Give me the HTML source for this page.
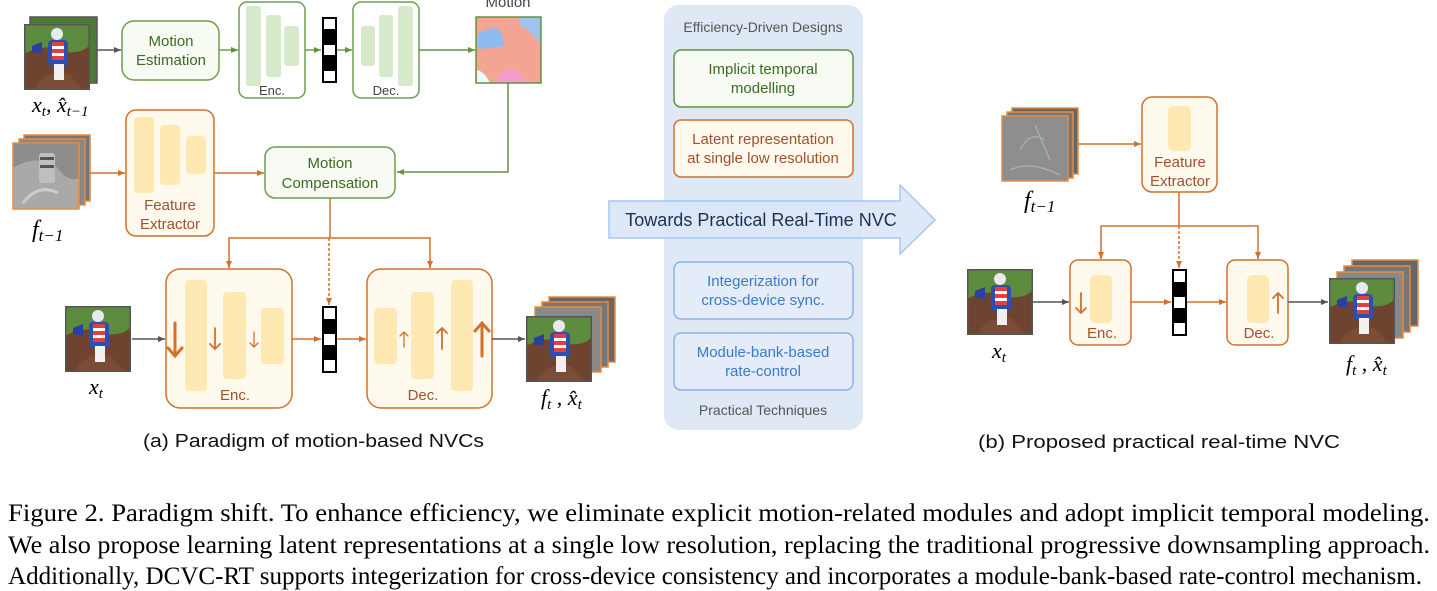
<!DOCTYPE html>
<html><head><meta charset="utf-8"><style>
html,body{margin:0;padding:0;background:#fff;width:1437px;height:591px;overflow:hidden}
svg{display:block}
.s{font-family:"Liberation Sans",sans-serif}
.m{font-family:"Liberation Serif",serif;font-style:italic}
</style></head><body>
<svg width="1437" height="591" viewBox="0 0 1437 591" xmlns="http://www.w3.org/2000/svg">
<defs>
<marker id="ag" markerWidth="8" markerHeight="8" refX="7" refY="4" orient="auto" markerUnits="userSpaceOnUse"><path d="M0,1 L7,4 L0,7 Z" fill="#555"/></marker>
<marker id="agr" markerWidth="8" markerHeight="8" refX="7" refY="4" orient="auto" markerUnits="userSpaceOnUse"><path d="M0,1 L7,4 L0,7 Z" fill="#5f9440"/></marker>
<marker id="ao" markerWidth="8" markerHeight="8" refX="7" refY="4" orient="auto" markerUnits="userSpaceOnUse"><path d="M0,1 L7,4 L0,7 Z" fill="#d3702a"/></marker>
<g id="horse">
<rect x="0" y="0" width="66" height="66" fill="#5e8c3e"/>
<path d="M0,30 Q20,18 40,28 Q60,30 66,20 L66,66 L0,66 Z" fill="#6e4330"/>
<path d="M10,66 Q20,45 45,50 L60,66 Z" fill="#7b4d36"/>
<rect x="24" y="16" width="20" height="26" rx="4" fill="#2b4fb3"/>
<rect x="28" y="18" width="12" height="4" fill="#e04040"/><rect x="28" y="25" width="12" height="4" fill="#e04040"/><rect x="28" y="32" width="12" height="4" fill="#e04040"/>
<rect x="28" y="22" width="12" height="3" fill="#fff"/><rect x="28" y="29" width="12" height="3" fill="#fff"/>
<circle cx="33" cy="10" r="6" fill="#e8e8f0"/>
<rect x="30" y="40" width="10" height="16" fill="#f0f0f0"/>
<path d="M8,22 L18,18 L18,30 L8,28 Z" fill="#2a3f9e"/>
<rect x="0.75" y="0.75" width="64.5" height="64.5" fill="none" stroke="#555" stroke-width="1.5"/>
</g>
<g id="gray">
<rect x="0" y="0" width="66" height="66" fill="#8d8d8d"/>
<path d="M0,25 Q25,10 45,25 Q55,40 66,35 L66,66 L0,66 Z" fill="#a9a9a9"/>
<rect x="26" y="10" width="16" height="30" rx="3" fill="#bfbfbf"/>
<rect x="27" y="14" width="14" height="3" fill="#555"/><rect x="27" y="22" width="14" height="3" fill="#555"/>
<path d="M10,60 Q25,40 45,50" stroke="#ccc" stroke-width="3" fill="none"/>
</g>
</defs>

<!-- ===== Panel (a) ===== -->
<rect x="30" y="17" width="67" height="66" fill="#4e7a37" stroke="#555" stroke-width="1.5"/>
<use href="#horse" x="24" y="24"/>
<text x="32" y="112" class="m" font-size="22">x<tspan font-size="15" dy="4">t</tspan><tspan dy="-4">, x̂</tspan><tspan font-size="15" dy="4">t−1</tspan></text>
<line x1="97" y1="50" x2="121" y2="50" stroke="#555" stroke-width="1.5" marker-end="url(#ag)"/>
<rect x="122" y="21" width="97" height="59" rx="12" fill="#f7fbf3" stroke="#6e9d4e" stroke-width="1.5"/>
<text x="171" y="46" class="s" font-size="15" fill="#3d6b1f" text-anchor="middle">Motion</text>
<text x="171" y="65" class="s" font-size="15" fill="#3d6b1f" text-anchor="middle">Estimation</text>
<line x1="219" y1="50" x2="238" y2="50" stroke="#6e9d4e" stroke-width="1.5" marker-end="url(#agr)"/>
<rect x="239" y="2" width="66" height="96" rx="8" fill="#fff" stroke="#6e9d4e" stroke-width="1.5"/>
<rect x="246" y="6" width="15" height="80" rx="3" fill="#d6e9ca"/>
<rect x="266" y="15" width="15" height="62" rx="3" fill="#d6e9ca"/>
<rect x="284" y="26" width="15" height="40" rx="3" fill="#d6e9ca"/>
<text x="272" y="95" class="s" font-size="13" fill="#444" text-anchor="middle">Enc.</text>
<line x1="305" y1="50" x2="321" y2="50" stroke="#6e9d4e" stroke-width="1.5" marker-end="url(#agr)"/>
<rect x="322" y="17" width="15" height="66" fill="#000"/>
<rect x="324" y="19" width="11" height="10" fill="#fff"/><rect x="324" y="45" width="11" height="10" fill="#fff"/><rect x="324" y="71" width="11" height="10" fill="#fff"/>
<line x1="337" y1="50" x2="352" y2="50" stroke="#6e9d4e" stroke-width="1.5" marker-end="url(#agr)"/>
<rect x="353" y="2" width="66" height="96" rx="8" fill="#fff" stroke="#6e9d4e" stroke-width="1.5"/>
<rect x="361" y="26" width="14" height="40" rx="3" fill="#d6e9ca"/>
<rect x="379" y="15" width="14" height="62" rx="3" fill="#d6e9ca"/>
<rect x="398" y="6" width="15" height="80" rx="3" fill="#d6e9ca"/>
<text x="386" y="95" class="s" font-size="13" fill="#444" text-anchor="middle">Dec.</text>
<line x1="419" y1="50" x2="475" y2="50" stroke="#5f9440" stroke-width="1.5" marker-end="url(#agr)"/>
<rect x="476" y="17" width="65" height="66" fill="#f3a493"/>
<path d="M477,35 Q490,25 500,30 L505,45 Q490,50 477,48 Z" fill="#8fbcef"/>
<path d="M520,18 L541,18 L541,45 Q530,30 520,25 Z" fill="#9fc3f0"/>
<path d="M495,83 Q505,65 515,70 L530,83 Z" fill="#f59ad0"/>
<path d="M477,70 Q485,72 490,83 L477,83 Z" fill="#eafaff"/>
<rect x="476" y="17" width="65" height="66" fill="none" stroke="#5f9440" stroke-width="1.5"/>
<text x="508" y="7" class="s" font-size="15" fill="#444" text-anchor="middle">Motion</text>
<polyline points="508,83 508,172 397,172" fill="none" stroke="#5f9440" stroke-width="1.5" marker-end="url(#agr)"/>
<rect x="24" y="135" width="66" height="66" fill="#777" stroke="#e98a3f" stroke-width="1.5"/>
<rect x="19" y="139" width="66" height="66" fill="#888" stroke="#e98a3f" stroke-width="1.5"/>
<use href="#gray" x="13" y="143"/>
<rect x="13" y="143" width="66" height="66" fill="none" stroke="#e98a3f" stroke-width="1.5"/>
<text x="32" y="237" class="m" font-size="24">f<tspan font-size="17" dy="4">t−1</tspan></text>
<line x1="90" y1="173" x2="125" y2="173" stroke="#d3702a" stroke-width="1.5" marker-end="url(#ao)"/>
<rect x="126" y="110" width="88" height="126" rx="10" fill="#fff9ee" stroke="#d3702a" stroke-width="1.5"/>
<rect x="134" y="117" width="20" height="76" rx="4" fill="#ffe9b3"/>
<rect x="160" y="125" width="20" height="60" rx="4" fill="#ffe9b3"/>
<rect x="186" y="136" width="20" height="38" rx="4" fill="#ffe9b3"/>
<text x="170" y="210" class="s" font-size="15" fill="#a0522d" text-anchor="middle">Feature</text>
<text x="170" y="229" class="s" font-size="15" fill="#a0522d" text-anchor="middle">Extractor</text>
<line x1="214" y1="173" x2="264" y2="173" stroke="#d3702a" stroke-width="1.5" marker-end="url(#ao)"/>
<rect x="265" y="147" width="130" height="51" rx="10" fill="#f7fbf3" stroke="#6e9d4e" stroke-width="1.5"/>
<text x="330" y="168" class="s" font-size="15" fill="#3d6b1f" text-anchor="middle">Motion</text>
<text x="330" y="188" class="s" font-size="15" fill="#3d6b1f" text-anchor="middle">Compensation</text>
<line x1="330" y1="198" x2="330" y2="238" stroke="#d3702a" stroke-width="1.5"/>
<polyline points="229,268 229,238 430,238 430,268" fill="none" stroke="#d3702a" stroke-width="1.5"/>
<line x1="229" y1="260" x2="229" y2="268" stroke="#d3702a" stroke-width="1.5" marker-end="url(#ao)"/>
<line x1="430" y1="260" x2="430" y2="268" stroke="#d3702a" stroke-width="1.5" marker-end="url(#ao)"/>
<line x1="329" y1="238" x2="329" y2="305" stroke="#d3702a" stroke-width="1.5" stroke-dasharray="3,2" marker-end="url(#ao)"/>
<use href="#horse" x="65" y="306"/>
<text x="89" y="394" class="m" font-size="22">x<tspan font-size="15" dy="4">t</tspan></text>
<line x1="132" y1="339" x2="165" y2="339" stroke="#555" stroke-width="1.5" marker-end="url(#ag)"/>
<rect x="166" y="269" width="126" height="139" rx="14" fill="#fff9ee" stroke="#d3702a" stroke-width="1.5"/>
<rect x="185" y="280" width="22" height="111" rx="4" fill="#ffe9b3"/>
<rect x="223" y="292" width="23" height="87" rx="4" fill="#ffe9b3"/>
<rect x="261" y="308" width="23" height="56" rx="4" fill="#ffe9b3"/>
<g stroke="#d3702a" fill="none" stroke-linecap="round">
<path d="M175,323 V356 M168,348 L175,356 L182,348" stroke-width="3"/>
<path d="M215,328 V349 M210,344 L215,349 L220,344" stroke-width="1.8"/>
<path d="M254,332 V347 M250,343 L254,347 L258,343" stroke-width="1.3"/>
</g>
<text x="235" y="400" class="s" font-size="15" fill="#a0522d" text-anchor="middle">Enc.</text>
<line x1="292" y1="339" x2="321" y2="339" stroke="#d3702a" stroke-width="1.5" marker-end="url(#ao)"/>
<rect x="322" y="306" width="15" height="67" fill="#000"/>
<rect x="324" y="308" width="11" height="11" fill="#fff"/><rect x="324" y="334" width="11" height="11" fill="#fff"/><rect x="324" y="360" width="11" height="11" fill="#fff"/>
<line x1="337" y1="339" x2="366" y2="339" stroke="#d3702a" stroke-width="1.5" marker-end="url(#ao)"/>
<rect x="367" y="269" width="125" height="139" rx="14" fill="#fff9ee" stroke="#d3702a" stroke-width="1.5"/>
<rect x="374" y="308" width="23" height="56" rx="4" fill="#ffe9b3"/>
<rect x="411" y="292" width="23" height="87" rx="4" fill="#ffe9b3"/>
<rect x="451" y="280" width="22" height="111" rx="4" fill="#ffe9b3"/>
<g stroke="#d3702a" fill="none" stroke-linecap="round">
<path d="M404,347 V332 M400,336 L404,332 L408,336" stroke-width="1.3"/>
<path d="M442,349 V328 M437,333 L442,328 L447,333" stroke-width="1.8"/>
<path d="M482,356 V323 M475,331 L482,323 L489,331" stroke-width="3"/>
</g>
<text x="423" y="400" class="s" font-size="15" fill="#a0522d" text-anchor="middle">Dec.</text>
<line x1="492" y1="339" x2="525" y2="339" stroke="#555" stroke-width="1.5" marker-end="url(#ag)"/>
<rect x="549" y="297" width="66" height="65" fill="#666" stroke="#e98a3f" stroke-width="1.5"/>
<rect x="542" y="302" width="66" height="65" fill="#777" stroke="#e98a3f" stroke-width="1.5"/>
<rect x="535" y="307" width="66" height="65" fill="#888" stroke="#e98a3f" stroke-width="1.5"/>
<use href="#horse" x="526" y="316"/>
<text x="541" y="405" class="m" font-size="22">f<tspan font-size="15" dy="4">t</tspan><tspan dy="-4"> , x̂</tspan><tspan font-size="15" dy="4">t</tspan></text>
<text x="143" y="447" class="s" font-size="18.5" fill="#111" textLength="341" lengthAdjust="spacingAndGlyphs">(a) Paradigm of motion-based NVCs</text>

<!-- ===== Middle panel ===== -->
<rect x="664" y="5" width="199" height="425" rx="15" fill="#dfe9f5"/>
<text x="763" y="32" class="s" font-size="14" fill="#555" text-anchor="middle">Efficiency-Driven Designs</text>
<rect x="674" y="50" width="179" height="57" rx="7" fill="#f7fbf3" stroke="#5f9440" stroke-width="1.5"/>
<text x="763" y="74" class="s" font-size="15" fill="#3d6b1f" text-anchor="middle">Implicit temporal</text>
<text x="763" y="93" class="s" font-size="15" fill="#3d6b1f" text-anchor="middle">modelling</text>
<rect x="674" y="120" width="179" height="57" rx="7" fill="#fff9ee" stroke="#d3702a" stroke-width="1.5"/>
<text x="763" y="144" class="s" font-size="15" fill="#a0522d" text-anchor="middle">Latent representation</text>
<text x="763" y="163" class="s" font-size="15" fill="#a0522d" text-anchor="middle">at single low resolution</text>
<path d="M609,201 H900 V185 L935,220 L900,254 V238 H609 Z" fill="#dae6f7" fill-opacity="0.92" stroke="#a6c6f2" stroke-width="1.5"/>
<text x="761" y="226" class="s" font-size="18" fill="#1e2f4f" text-anchor="middle">Towards Practical Real-Time NVC</text>
<rect x="674" y="262" width="179" height="57" rx="7" fill="#e3ecf8" stroke="#8ab4e6" stroke-width="1.5"/>
<text x="763" y="286" class="s" font-size="15" fill="#3a7acb" text-anchor="middle">Integerization for</text>
<text x="763" y="305" class="s" font-size="15" fill="#3a7acb" text-anchor="middle">cross-device sync.</text>
<rect x="674" y="333" width="179" height="57" rx="7" fill="#e3ecf8" stroke="#8ab4e6" stroke-width="1.5"/>
<text x="763" y="357" class="s" font-size="15" fill="#3a7acb" text-anchor="middle">Module-bank-based</text>
<text x="763" y="376" class="s" font-size="15" fill="#3a7acb" text-anchor="middle">rate-control</text>
<text x="763" y="415" class="s" font-size="14" fill="#555" text-anchor="middle">Practical Techniques</text>

<!-- ===== Panel (b) ===== -->
<rect x="1012" y="108" width="66" height="66" fill="#666" stroke="#e98a3f" stroke-width="1.5"/>
<rect x="1007" y="112" width="66" height="66" fill="#777" stroke="#e98a3f" stroke-width="1.5"/>
<rect x="1002" y="116" width="66" height="65" fill="#8e8e8e" stroke="#e98a3f" stroke-width="1.5"/>
<path d="M1020,150 Q1030,130 1045,140 M1035,125 L1050,160 M1010,170 Q1030,160 1060,175" stroke="#b0b0b0" stroke-width="1.2" fill="none"/>
<text x="1024" y="208" class="m" font-size="24">f<tspan font-size="17" dy="4">t−1</tspan></text>
<line x1="1078" y1="144" x2="1141" y2="144" stroke="#d3702a" stroke-width="1.5" marker-end="url(#ao)"/>
<rect x="1142" y="97" width="75" height="95" rx="10" fill="#fff9ee" stroke="#d3702a" stroke-width="1.5"/>
<rect x="1168" y="106" width="23" height="45" rx="5" fill="#ffe9b3"/>
<text x="1180" y="167" class="s" font-size="15" fill="#a0522d" text-anchor="middle">Feature</text>
<text x="1180" y="186" class="s" font-size="15" fill="#a0522d" text-anchor="middle">Extractor</text>
<line x1="1179" y1="192" x2="1179" y2="226" stroke="#d3702a" stroke-width="1.5"/>
<polyline points="1101,259 1101,226 1258,226 1258,259" fill="none" stroke="#d3702a" stroke-width="1.5"/>
<line x1="1101" y1="252" x2="1101" y2="259" stroke="#d3702a" stroke-width="1.5" marker-end="url(#ao)"/>
<line x1="1258" y1="252" x2="1258" y2="259" stroke="#d3702a" stroke-width="1.5" marker-end="url(#ao)"/>
<line x1="1179" y1="226" x2="1179" y2="268" stroke="#d3702a" stroke-width="1.5" stroke-dasharray="3,2" marker-end="url(#ao)"/>
<use href="#horse" x="967" y="269"/>
<text x="992" y="358" class="m" font-size="22">x<tspan font-size="15" dy="4">t</tspan></text>
<line x1="1033" y1="302" x2="1069" y2="302" stroke="#555" stroke-width="1.5" marker-end="url(#ag)"/>
<rect x="1070" y="260" width="61" height="85" rx="8" fill="#fff9ee" stroke="#d3702a" stroke-width="1.5"/>
<rect x="1090" y="275" width="22" height="48" rx="5" fill="#ffe9b3"/>
<path d="M1081,293 V313 M1076,308 L1081,313 L1086,308" stroke="#d3702a" stroke-width="1.8" fill="none" stroke-linecap="round"/>
<text x="1102" y="338" class="s" font-size="15" fill="#a0522d" text-anchor="middle">Enc.</text>
<line x1="1131" y1="302" x2="1171" y2="302" stroke="#d3702a" stroke-width="1.5" marker-end="url(#ao)"/>
<rect x="1172" y="269" width="15" height="67" fill="#000"/>
<rect x="1174" y="271" width="11" height="11" fill="#fff"/><rect x="1174" y="297" width="11" height="11" fill="#fff"/><rect x="1174" y="323" width="11" height="11" fill="#fff"/>
<line x1="1187" y1="302" x2="1226" y2="302" stroke="#d3702a" stroke-width="1.5" marker-end="url(#ao)"/>
<rect x="1227" y="260" width="61" height="85" rx="8" fill="#fff9ee" stroke="#d3702a" stroke-width="1.5"/>
<rect x="1247" y="275" width="22" height="48" rx="5" fill="#ffe9b3"/>
<path d="M1278,313 V293 M1273,298 L1278,293 L1283,298" stroke="#d3702a" stroke-width="1.8" fill="none" stroke-linecap="round"/>
<text x="1259" y="338" class="s" font-size="15" fill="#a0522d" text-anchor="middle">Dec.</text>
<line x1="1288" y1="302" x2="1328" y2="302" stroke="#555" stroke-width="1.5" marker-end="url(#ag)"/>
<rect x="1352" y="260" width="66" height="66" fill="#666" stroke="#e98a3f" stroke-width="1.5"/>
<rect x="1344" y="266" width="66" height="66" fill="#777" stroke="#e98a3f" stroke-width="1.5"/>
<rect x="1337" y="272" width="66" height="66" fill="#888" stroke="#e98a3f" stroke-width="1.5"/>
<use href="#horse" x="1329" y="278"/>
<text x="1346" y="371" class="m" font-size="22">f<tspan font-size="15" dy="4">t</tspan><tspan dy="-4"> , x̂</tspan><tspan font-size="15" dy="4">t</tspan></text>
<text x="978" y="448" class="s" font-size="18.5" fill="#111" textLength="362" lengthAdjust="spacingAndGlyphs">(b) Proposed practical real-time NVC</text>

<!-- caption -->
<g font-family="'Liberation Serif',serif" font-size="25" fill="#000">
<text x="8" y="521" textLength="1422" lengthAdjust="spacingAndGlyphs">Figure 2.  Paradigm shift.  To enhance efficiency, we eliminate explicit motion-related modules and adopt implicit temporal modeling.</text>
<text x="8" y="553" textLength="1422" lengthAdjust="spacingAndGlyphs">We also propose learning latent representations at a single low resolution, replacing the traditional progressive downsampling approach.</text>
<text x="8" y="584" textLength="1414" lengthAdjust="spacingAndGlyphs">Additionally, DCVC-RT supports integerization for cross-device consistency and incorporates a module-bank-based rate-control mechanism.</text>
</g>
</svg>
</body></html>
